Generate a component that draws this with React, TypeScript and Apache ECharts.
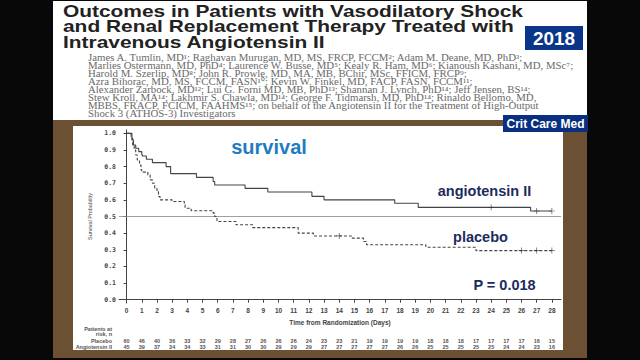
import React, { useEffect, useRef } from "react";
import * as echarts from "echarts";

const titleLines = [
  "Outcomes in Patients with Vasodilatory Shock",
  "and Renal Replacement Therapy Treated with",
  "Intravenous Angiotensin II",
];

const authorLines = [
  "James A. Tumlin, MD¹; Raghavan Murugan, MD, MS, FRCP, FCCM²; Adam M. Deane, MD, PhD³;",
  "Marlies Ostermann, MD, PhD⁴; Laurence W. Busse, MD⁵; Kealy R. Ham, MD⁶; Kianoush Kashani, MD, MSc⁷;",
  "Harold M. Szerlip, MD⁸; John R. Prowle, MD, MA, MB, BChir, MSc, FFICM, FRCP⁹;",
  "Azra Bihorac, MD, MS, FCCM, FASN¹⁰; Kevin W. Finkel, MD, FACP, FASN, FCCM¹¹;",
  "Alexander Zarbock, MD¹²; Lui G. Forni MD, MB, PhD¹³; Shannan J. Lynch, PhD¹⁴; Jeff Jensen, BS¹⁴;",
  "Stew Kroll, MA¹⁴; Lakhmir S. Chawla, MD¹⁴; George F. Tidmarsh, MD, PhD¹⁴; Rinaldo Bellomo, MD,",
  "MBBS, FRACP, FCICM, FAAHMS¹⁵; on behalf of the Angiotensin II for the Treatment of High-Output",
  "Shock 3 (ATHOS-3) Investigators",
];

const dayTicks = [0, 1, 2, 3, 4, 5, 6, 7, 8, 9, 10, 11, 12, 13, 14, 15, 16, 17, 18, 19, 20, 21, 22, 23, 24, 25, 26, 27, 28];
const probTicks = [0, 0.1, 0.2, 0.3, 0.4, 0.5, 0.6, 0.7, 0.8, 0.9, 1.0];

const angioCurve: [number, number][] = [
  [0, 1.0], [0.35, 0.96], [0.45, 0.93], [0.6, 0.91], [0.8, 0.89], [1.0, 0.87],
  [1.05, 0.864], [1.3, 0.844], [1.7, 0.824], [2.6, 0.8], [2.9, 0.758], [4.6, 0.735],
  [5.7, 0.71], [5.8, 0.689], [7.8, 0.669], [9.3, 0.647], [12.2, 0.621], [13.0, 0.6],
  [17.65, 0.58], [19.2, 0.555], [26.6, 0.533], [28, 0.533],
];

const placeboCurve: [number, number][] = [
  [0, 1.0], [0.3, 0.97], [0.4, 0.93], [0.5, 0.9], [0.6, 0.87], [0.7, 0.84], [0.85, 0.81],
  [0.95, 0.78], [1.0, 0.767], [1.4, 0.75], [1.55, 0.72], [1.7, 0.7], [1.85, 0.67],
  [2.0, 0.65], [2.1, 0.62], [2.2, 0.6], [3.0, 0.59], [3.8, 0.57], [3.85, 0.55],
  [4.25, 0.535], [5.7, 0.52], [5.8, 0.5], [5.95, 0.47], [7.2, 0.45], [8.3, 0.433],
  [11.3, 0.4], [12.3, 0.383], [14.8, 0.37], [15.6, 0.35], [15.8, 0.33], [19.7, 0.315],
  [23.0, 0.295], [28, 0.295],
];

const angioCensor: [number, number][] = [[24, 0.555], [27, 0.533], [28, 0.533]];
const placeboCensor: [number, number][] = [[14, 0.383], [26, 0.295], [27, 0.295], [28, 0.295]];

const placeboAtRisk = [60, 46, 40, 36, 33, 32, 29, 28, 27, 26, 26, 26, 24, 23, 23, 21, 19, 19, 19, 19, 18, 18, 18, 17, 17, 17, 17, 16, 15];
const angioAtRisk = [45, 39, 37, 34, 34, 33, 31, 31, 30, 30, 29, 29, 29, 27, 27, 27, 27, 27, 26, 26, 25, 25, 25, 25, 25, 24, 24, 23, 16];

const SANS = "Liberation Sans, Arial, sans-serif";
const SERIF = "Liberation Serif, Times New Roman, serif";

function txt(text: string, x: number, y: number, o: any = {}) {
  return {
    type: "text",
    x,
    y,
    z: 50,
    scaleX: o.scaleX ?? 1,
    style: {
      text,
      x: 0,
      y: 0,
      fill: o.fill ?? "#222",
      fontSize: o.fontSize ?? 12,
      fontWeight: o.fontWeight ?? "normal",
      fontFamily: o.fontFamily ?? SANS,
      textAlign: o.align ?? "left",
      textVerticalAlign: "middle",
      align: o.align ?? "left",
      verticalAlign: "middle",
    },
  };
}

export default function App() {
  const ref = useRef<HTMLDivElement>(null);
  useEffect(() => {
    if (!ref.current) return;
    const chart = echarts.init(ref.current, null, { renderer: "svg" });
    const plus = "path://M0,4.4H4.4V0H5.6V4.4H10V5.6H5.6V10H4.4V5.6H0Z";
    const xBase = { type: "value", min: -0.5, max: 28.6, gridIndex: 0 };
    const graphic: any[] = [
      { type: "rect", z: 0, shape: { x: 53, y: 1, width: 534, height: 119 }, style: { fill: "#ffffff" } },
      { type: "rect", z: 0, shape: { x: 53, y: 120, width: 534, height: 238 }, style: { fill: "#6c5034" } },
      { type: "rect", z: 0, shape: { x: 73, y: 126, width: 490, height: 224 }, style: { fill: "#ffffff" } },
      { type: "rect", z: 40, shape: { x: 525, y: 26, width: 58, height: 24 }, style: { fill: "#0b3589" } },
      { type: "rect", z: 40, shape: { x: 503, y: 115, width: 85, height: 17 }, style: { fill: "#0b2f80" } },
      txt("2018", 554, 38.5, { fill: "#fff", fontSize: 18, fontWeight: "bold", align: "center", scaleX: 1.05 }),
      txt("Crit Care Med", 545.5, 123.5, { fill: "#fff", fontSize: 12, fontWeight: "bold", align: "center" }),
      ...titleLines.map((t, i) => txt(t, 63, 11 + i * 15.5, { fontSize: 17, fontWeight: "bold", scaleX: 1.23, fill: "#222" })),
      ...authorLines.map((t, i) => txt(t, 88, 57.5 + i * 8.1, { fontSize: 9.5, fontFamily: SERIF, scaleX: 1.14, fill: "#6a6a6a" })),
      txt("survival", 269, 147, { fontSize: 20, fontWeight: "bold", fill: "#1f7cc0", align: "center" }),
      txt("angiotensin II", 484.5, 191, { fontSize: 14.5, fontWeight: "bold", fill: "#1b2c5c", align: "center" }),
      txt("placebo", 480.5, 237, { fontSize: 14.5, fontWeight: "bold", fill: "#1b2c5c", align: "center" }),
      txt("P = 0.018", 504.5, 285, { fontSize: 14.5, fontWeight: "bold", fill: "#1b2c5c", align: "center" }),
      txt("Patients at", 112, 329, { fontSize: 5.5, fontWeight: "bold", fill: "#555", align: "right" }),
      txt("risk, n", 112, 334, { fontSize: 5.5, fontWeight: "bold", fill: "#555", align: "right" }),
      txt("Placebo", 112, 341, { fontSize: 5.5, fontWeight: "bold", fill: "#555", align: "right" }),
      txt("Angiotensin II", 112, 346.5, { fontSize: 5.5, fontWeight: "bold", fill: "#555", align: "right" }),
    ];
    chart.setOption({
      animation: false,
      backgroundColor: "#080808",
      graphic: { elements: graphic },
      grid: {
        left: 119,
        top: 130,
        right: 79,
        bottom: 57,
        show: true,
        borderColor: "#aaa",
        borderWidth: 1,
        backgroundColor: "transparent",
        containLabel: false,
      },
      xAxis: [
        {
          ...xBase,
          position: "bottom",
          axisLine: { show: true, lineStyle: { color: "#444", width: 1 } },
          axisTick: { show: true, customValues: dayTicks, length: 3, lineStyle: { color: "#444" } },
          axisLabel: { customValues: dayTicks, fontSize: 6.5, fontWeight: "bold", color: "#444", margin: 4, fontFamily: SANS },
          splitLine: { show: false },
          name: "Time from Randomization (Days)",
          nameLocation: "middle",
          nameGap: 16,
          nameTextStyle: { fontSize: 6.5, fontWeight: "bold", color: "#444", fontFamily: SANS },
        },
        {
          ...xBase,
          position: "bottom",
          offset: 35,
          axisLine: { show: false },
          axisTick: { show: false },
          splitLine: { show: false },
          axisLabel: {
            customValues: dayTicks,
            margin: 0,
            fontSize: 5.5,
            fontWeight: "bold",
            color: "#555",
            fontFamily: SANS,
            formatter: (v: number) => String(placeboAtRisk[Math.round(v)] ?? ""),
          },
        },
        {
          ...xBase,
          position: "bottom",
          offset: 40.5,
          axisLine: { show: false },
          axisTick: { show: false },
          splitLine: { show: false },
          axisLabel: {
            customValues: dayTicks,
            margin: 0,
            fontSize: 5.5,
            fontWeight: "bold",
            color: "#555",
            fontFamily: SANS,
            formatter: (v: number) => String(angioAtRisk[Math.round(v)] ?? ""),
          },
        },
      ],
      yAxis: {
        type: "value",
        min: -0.02,
        max: 1.02,
        axisLine: { show: true, lineStyle: { color: "#444", width: 1 } },
        axisTick: { show: true, customValues: probTicks, length: 3, lineStyle: { color: "#444" } },
        axisLabel: {
          customValues: probTicks,
          fontSize: 6.5,
          fontWeight: "bold",
          color: "#444",
          margin: 3,
          fontFamily: "DejaVu Sans Mono, monospace",
          formatter: (v: number) => v.toFixed(1),
        },
        splitLine: { show: false },
        name: "Survival Probability",
        nameLocation: "middle",
        nameGap: 26,
        nameTextStyle: { fontSize: 5.5, color: "#444", fontFamily: SANS },
      },
      series: [
        {
          name: "Angiotensin II",
          type: "line",
          step: "end",
          showSymbol: false,
          data: angioCurve,
          lineStyle: { color: "#444", width: 1.1 },
          z: 5,
          markLine: {
            silent: true,
            symbol: "none",
            label: { show: false },
            lineStyle: { color: "#888", width: 0.8, type: "solid" },
            data: [{ yAxis: 0.5 }],
          },
        },
        {
          name: "Placebo",
          type: "line",
          step: "end",
          showSymbol: false,
          data: placeboCurve,
          lineStyle: { color: "#444", width: 1.1, type: [3, 2] },
          z: 5,
        },
        {
          name: "Angiotensin II censored",
          type: "scatter",
          data: angioCensor,
          symbol: plus,
          symbolSize: [6, 6],
          itemStyle: { color: "#333" },
          z: 6,
        },
        {
          name: "Placebo censored",
          type: "scatter",
          data: placeboCensor,
          symbol: plus,
          symbolSize: [6, 6],
          itemStyle: { color: "#333" },
          z: 6,
        },
      ],
    });
    return () => chart.dispose();
  }, []);
  return <div ref={ref} style={{ position: "absolute", left: 0, top: 0, width: 640, height: 360 }} />;
}
